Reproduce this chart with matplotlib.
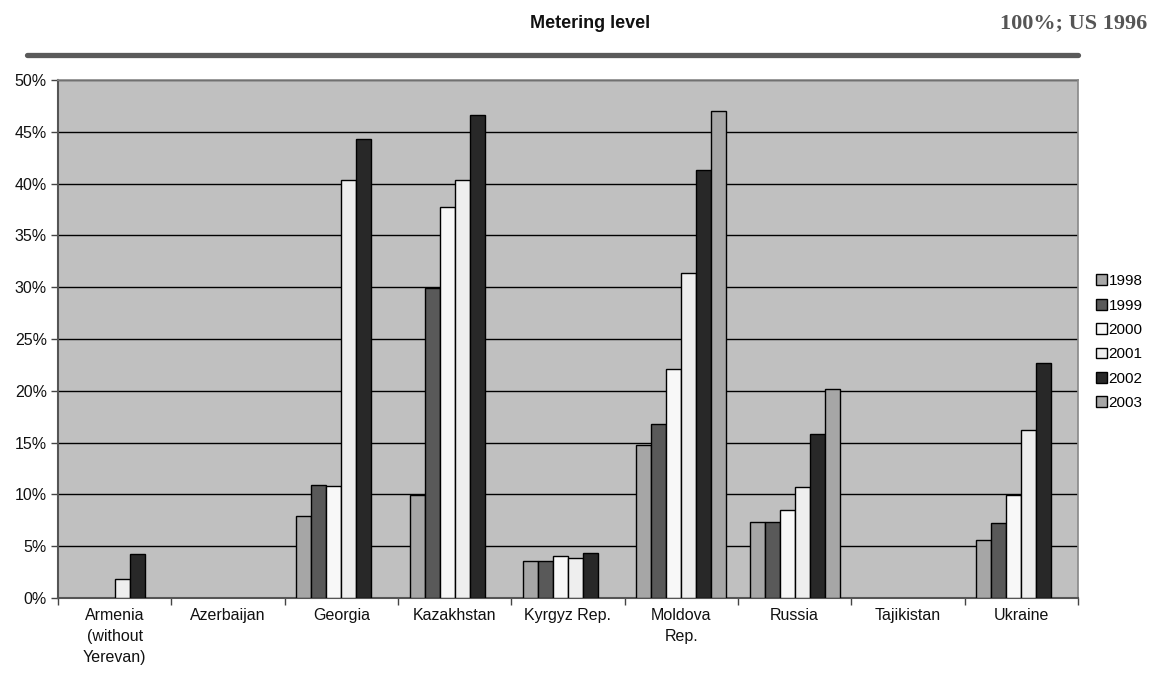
import numpy as np
import matplotlib.pyplot as plt
from matplotlib.lines import Line2D

plt.rcParams['font.family'] = ['Liberation Sans', 'DejaVu Sans']

countries = ['Armenia\n(without\nYerevan)', 'Azerbaijan', 'Georgia', 'Kazakhstan',
             'Kyrgyz Rep.', 'Moldova\nRep.', 'Russia', 'Tajikistan', 'Ukraine']
years = ['1998', '1999', '2000', '2001', '2002', '2003']

# metering level in %, NaN where no data
v1998 = [np.nan, np.nan, 7.9, 9.9, 3.6, 14.8, 7.3, np.nan, 5.6]
v1999 = [np.nan, np.nan, 10.9, 29.9, 3.6, 16.8, 7.3, np.nan, 7.2]
v2000 = [np.nan, np.nan, 10.8, 37.7, 4.1, 22.1, 8.5, np.nan, 9.9]
v2001 = [1.8, np.nan, 40.3, 40.3, 3.9, 31.4, 10.7, np.nan, 16.2]
v2002 = [4.2, np.nan, 44.3, 46.6, 4.3, 41.3, 15.8, np.nan, 22.7]
v2003 = [np.nan, np.nan, np.nan, np.nan, np.nan, 47.0, 20.2, np.nan, np.nan]
series = [v1998, v1999, v2000, v2001, v2002, v2003]
colors = ['#a6a6a6', '#595959', '#f8f8f8', '#eeeeee', '#282828', '#a6a6a6']

fig = plt.figure(figsize=(11.55, 6.77), dpi=100)
ax = fig.add_axes([58 / 1155, 1 - 598 / 677, 1020 / 1155, 518 / 677])
ax.set_facecolor('#c0c0c0')

x = np.arange(len(countries))
w = 0.132
for i, (vals, c, yr) in enumerate(zip(series, colors, years)):
    ax.bar(x + (i - 2.5) * w, vals, w, color=c, edgecolor='black', linewidth=1.0,
           label=yr, zorder=3)

ax.set_xlim(-0.5, len(countries) - 0.5)
ax.set_ylim(0, 50)
ax.set_yticks(np.arange(0, 51, 5))
ax.set_yticklabels([f'{t}%' for t in range(0, 51, 5)], fontsize=11.5, color='#111111')
ax.yaxis.grid(True, color='black', linewidth=1.0, zorder=1)
ax.set_axisbelow(True)

ax.set_xticks(np.arange(-0.5, len(countries), 1.0))
ax.set_xticklabels([])
ax.set_xticks(x, minor=True)
ax.set_xticklabels(countries, minor=True, fontsize=11.5, color='#111111', linespacing=1.5)
ax.tick_params(axis='x', which='minor', length=0, pad=7)
ax.tick_params(axis='x', which='major', length=5, width=1, color='#444444')
ax.tick_params(axis='y', length=5, width=1, color='#444444', pad=3)

for s in ['left', 'bottom']:
    ax.spines[s].set_color('#555555')
    ax.spines[s].set_linewidth(1.5)
for s in ['top', 'right']:
    ax.spines[s].set_color('#888888')
    ax.spines[s].set_linewidth(1.2)

leg = ax.legend(loc='upper left', bbox_to_anchor=(1.012, 0.637), frameon=False,
                fontsize=11, handlelength=0.7, handleheight=0.7, handletextpad=0.1,
                labelspacing=0.68, borderaxespad=0)
for h in leg.legend_handles:
    h.set_linewidth(1.0)

fig.text(590 / 1155, 1 - 23 / 677, 'Metering level', ha='center', va='center',
         fontsize=13, fontweight='bold', color='#111111')
fig.text(1147 / 1155, 1 - 23 / 677, '100%; US 1996', ha='right', va='center',
         fontsize=16, fontweight='bold', color='#555555', family='Liberation Serif')
fig.add_artist(Line2D([27 / 1155, 1078 / 1155], [1 - 55 / 677, 1 - 55 / 677],
                      color='#5a5a5a', linewidth=3.8, solid_capstyle='round'))

fig.savefig('out.png', dpi=100)
